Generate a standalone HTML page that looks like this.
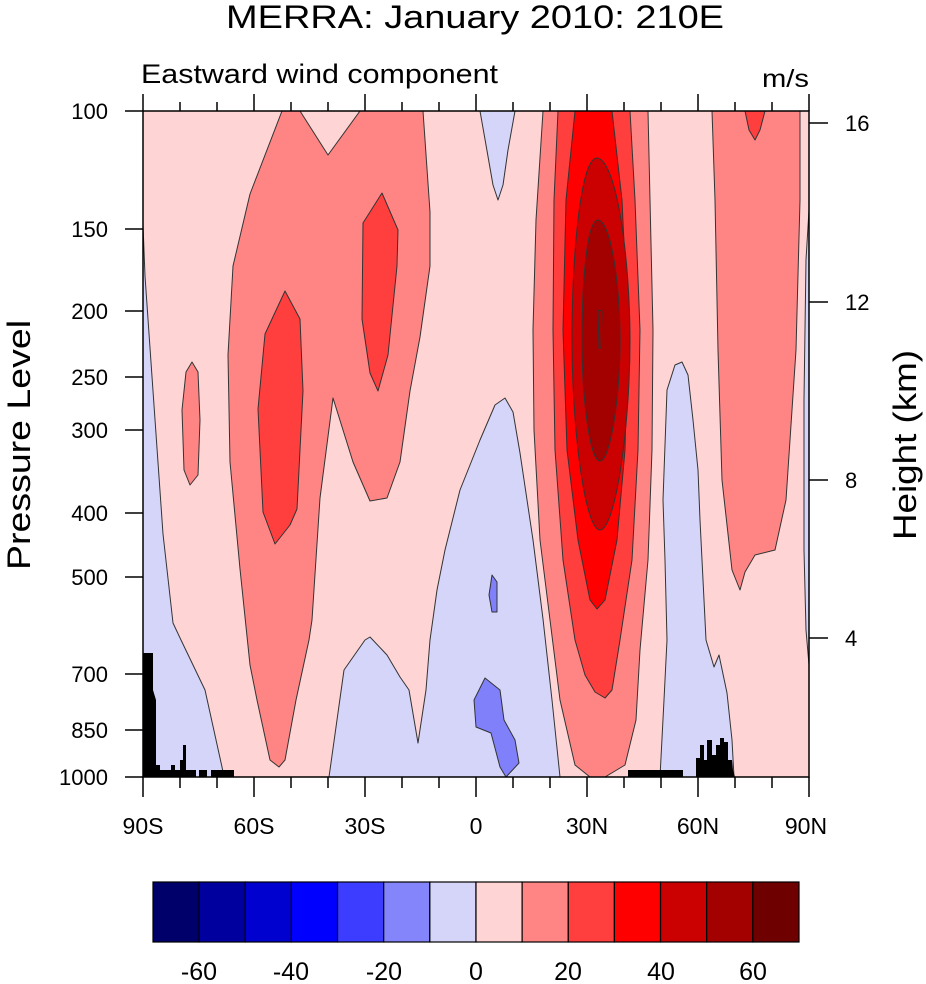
<!DOCTYPE html>
<html><head><meta charset="utf-8"><style>
html,body{margin:0;padding:0;background:#fff;}
svg{display:block;font-family:"Liberation Sans",Arial,sans-serif;}
</style></head><body>
<svg width="926" height="984" viewBox="0 0 926 984" xmlns="http://www.w3.org/2000/svg">
<text x="226" y="28" font-size="32" textLength="498" lengthAdjust="spacingAndGlyphs">MERRA: January 2010: 210E</text>
<text x="141" y="83" font-size="27" textLength="357" lengthAdjust="spacingAndGlyphs">Eastward wind component</text>
<text x="762" y="87" font-size="25" textLength="47" lengthAdjust="spacingAndGlyphs">m/s</text>
<text transform="translate(30,445) rotate(-90)" font-size="32" text-anchor="middle" textLength="250" lengthAdjust="spacingAndGlyphs">Pressure Level</text>
<text transform="translate(916,445) rotate(-90)" font-size="32" text-anchor="middle" textLength="190" lengthAdjust="spacingAndGlyphs">Height (km)</text>

<clipPath id="c"><rect x="143" y="111" width="666" height="666"/></clipPath>
<g clip-path="url(#c)" stroke="#333" stroke-width="1" stroke-linejoin="round">
<rect x="143" y="111" width="666" height="666" fill="#fed4d4" stroke="none"/>
<path fill="#d5d5fa" d="M143,225 L145,276 L153,391 L163,534 L173,623 L181,640 L205,690 L222,767 L224,777 L143,777 Z"/>
<path fill="#d5d5fa" d="M329,777 L344,670 L365,640 L370,637 L387,655 L400,677 L409,690 L418,743 L426,690 L430,640 L437,590 L445,550 L460,490 L480,440 L495,405 L505,398 L513,412 L520,453 L533,540 L543,619 L552,700 L560,777 Z"/>
<path fill="#d5d5fa" d="M480,111 L486,145 L493,185 L498,200 L503,185 L508,150 L515,111 Z"/>
<path fill="#d5d5fa" d="M660,777 L664,700 L667,640 L665,560 L663,500 L667,390 L675,365 L682,362 L688,375 L693,420 L698,470 L700,520 L703,580 L706,640 L714,667 L719,655 L727,693 L732,740 L734,777 Z"/>
<path fill="#d5d5fa" d="M809,210 L806,260 L804,400 L804,550 L806,630 L809,665 Z"/>
<path fill="#8080fb" d="M485,678 L500,690 L504,720 L515,740 L519,763 L506,777 L500,767 L491,733 L476,727 L474,700 Z"/>
<path fill="#8080fb" d="M492,575 L497,582 L497,612 L492,612 L489,595 Z"/>
<path fill="#ff8585" d="M282,111 L300,111 L328,155 L360,111 L423,111 L430,212 L430,266 L420,337 L410,391 L400,462 L387,498 L370,501 L353,462 L333,398 L320,498 L312,620 L309,640 L296,700 L285,760 L279,767 L270,760 L257,700 L250,665 L240,569 L230,462 L228,355 L233,266 L250,194 Z"/>
<path fill="#ff8585" d="M192,362 L198,372 L200,420 L198,475 L190,485 L184,470 L182,410 L186,372 Z"/>
<path fill="#ff8585" d="M712,111 L800,111 L800,200 L796,350 L786,500 L775,550 L755,555 L745,572 L740,590 L732,570 L722,480 L718,350 L715,200 Z"/>
<path fill="#ff8585" d="M543,111 L648,111 L650,200 L653,330 L652,450 L648,560 L640,650 L636,720 L625,765 L605,777 L590,777 L575,765 L560,700 L550,620 L540,540 L534,430 L533,330 L536,220 Z"/>
<path fill="#ff3e3e" d="M285,291 L300,319 L303,391 L297,509 L290,525 L275,544 L263,512 L258,409 L265,334 Z"/>
<path fill="#ff3e3e" d="M382,193 L398,230 L397,266 L388,355 L378,391 L370,373 L362,319 L363,223 Z"/>
<path fill="#ff3e3e" d="M558,111 L630,111 L635,200 L640,330 L638,450 L632,560 L620,640 L612,690 L605,698 L595,692 L585,675 L575,640 L563,560 L555,450 L553,330 L554,200 Z"/>
<path fill="#ff3e3e" d="M745,111 L765,111 L760,130 L755,140 L749,130 Z"/>
<path fill="#fe0000" d="M575,111 L612,111 L622,200 L628,330 L625,450 L617,540 L605,600 L597,609 L590,600 L578,540 L567,450 L563,330 L566,200 Z"/>
<path fill="#cb0000" d="M597,158 C617,160 630,260 630,340 C630,430 615,530 600,530 C585,530 572,430 572,340 C572,260 580,158 597,158 Z"/>
<path fill="#a30000" d="M598,220 C612,222 620,290 620,340 C620,400 610,461 600,461 C590,461 582,400 582,340 C582,290 586,220 598,220 Z"/>
<path fill="#a30000" d="M598,310 L602,311 L601,348 L599,348 Z"/>
</g>
<g fill="#000">
<path d="M143,653 L153,653 L153,690 L156,700 L156,765 L160,765 L160,770 L171,770 L171,765 L175,765 L175,770 L180,770 L180,760 L183,760 L183,745 L186,745 L186,770 L196,770 L196,777 L143,777 Z"/>
<rect x="199" y="770" width="8" height="7"/>
<rect x="211" y="770" width="23" height="7"/>
<path d="M628,770 L683,770 L683,777 L628,777 Z"/>
<path d="M696,777 L696,758 L700,758 L700,745 L704,745 L704,760 L707,760 L707,740 L712,740 L712,755 L716,755 L716,745 L720,745 L720,738 L724,738 L724,742 L728,742 L728,760 L732,760 L733,770 L735,777 Z"/>
</g>
<rect x="143" y="111" width="666" height="666" fill="none" stroke="#000" stroke-width="1.5"/>
<g stroke="#000" stroke-width="1.5">
<line x1="143" y1="777" x2="143" y2="797"/><line x1="254" y1="777" x2="254" y2="797"/><line x1="365" y1="777" x2="365" y2="797"/><line x1="476" y1="777" x2="476" y2="797"/><line x1="587" y1="777" x2="587" y2="797"/><line x1="698" y1="777" x2="698" y2="797"/><line x1="809" y1="777" x2="809" y2="797"/>
<line x1="180" y1="777" x2="180" y2="788"/><line x1="217" y1="777" x2="217" y2="788"/><line x1="291" y1="777" x2="291" y2="788"/><line x1="328" y1="777" x2="328" y2="788"/><line x1="402" y1="777" x2="402" y2="788"/><line x1="439" y1="777" x2="439" y2="788"/><line x1="513" y1="777" x2="513" y2="788"/><line x1="550" y1="777" x2="550" y2="788"/><line x1="624" y1="777" x2="624" y2="788"/><line x1="661" y1="777" x2="661" y2="788"/><line x1="735" y1="777" x2="735" y2="788"/><line x1="772" y1="777" x2="772" y2="788"/>
<line x1="143" y1="111" x2="143" y2="94"/><line x1="254" y1="111" x2="254" y2="94"/><line x1="365" y1="111" x2="365" y2="94"/><line x1="476" y1="111" x2="476" y2="94"/><line x1="587" y1="111" x2="587" y2="94"/><line x1="698" y1="111" x2="698" y2="94"/><line x1="809" y1="111" x2="809" y2="94"/>
<line x1="180" y1="111" x2="180" y2="102"/><line x1="217" y1="111" x2="217" y2="102"/><line x1="291" y1="111" x2="291" y2="102"/><line x1="328" y1="111" x2="328" y2="102"/><line x1="402" y1="111" x2="402" y2="102"/><line x1="439" y1="111" x2="439" y2="102"/><line x1="513" y1="111" x2="513" y2="102"/><line x1="550" y1="111" x2="550" y2="102"/><line x1="624" y1="111" x2="624" y2="102"/><line x1="661" y1="111" x2="661" y2="102"/><line x1="735" y1="111" x2="735" y2="102"/><line x1="772" y1="111" x2="772" y2="102"/>
<line x1="143" y1="111" x2="125" y2="111"/><line x1="143" y1="229" x2="125" y2="229"/><line x1="143" y1="311" x2="125" y2="311"/><line x1="143" y1="377" x2="125" y2="377"/><line x1="143" y1="430" x2="125" y2="430"/><line x1="143" y1="513" x2="125" y2="513"/><line x1="143" y1="577" x2="125" y2="577"/><line x1="143" y1="674" x2="125" y2="674"/><line x1="143" y1="730" x2="125" y2="730"/><line x1="143" y1="777" x2="125" y2="777"/>
<line x1="809" y1="123" x2="828" y2="123"/><line x1="809" y1="302" x2="828" y2="302"/><line x1="809" y1="480" x2="828" y2="480"/><line x1="809" y1="638" x2="828" y2="638"/>
</g>
<g font-size="22" text-anchor="end">
<text x="108" y="119">100</text><text x="108" y="237">150</text><text x="108" y="319">200</text><text x="108" y="385">250</text><text x="108" y="438">300</text><text x="108" y="521">400</text><text x="108" y="585">500</text><text x="108" y="682">700</text><text x="108" y="738">850</text><text x="108" y="785">1000</text>
</g>
<g font-size="22">
<text x="845" y="131">16</text><text x="845" y="310">12</text><text x="845" y="488">8</text><text x="845" y="646">4</text>
</g>
<g font-size="23" text-anchor="middle">
<text x="143" y="834">90S</text><text x="254" y="834">60S</text><text x="365" y="834">30S</text><text x="476" y="834">0</text><text x="587" y="834">30N</text><text x="698" y="834">60N</text><text x="806" y="834">90N</text>
</g>
<g stroke="#000" stroke-width="1.2">
<rect x="153" y="882" width="46.14" height="60" fill="#00006b"/>
<rect x="199.14" y="882" width="46.14" height="60" fill="#00009e"/>
<rect x="245.28" y="882" width="46.14" height="60" fill="#0000cf"/>
<rect x="291.42" y="882" width="46.14" height="60" fill="#0000ff"/>
<rect x="337.56" y="882" width="46.14" height="60" fill="#3d3dff"/>
<rect x="383.7" y="882" width="46.14" height="60" fill="#8585fb"/>
<rect x="429.84" y="882" width="46.14" height="60" fill="#d5d5fa"/>
<rect x="475.98" y="882" width="46.14" height="60" fill="#fed4d4"/>
<rect x="522.12" y="882" width="46.14" height="60" fill="#ff8585"/>
<rect x="568.26" y="882" width="46.14" height="60" fill="#ff3e3e"/>
<rect x="614.4" y="882" width="46.14" height="60" fill="#fe0000"/>
<rect x="660.54" y="882" width="46.14" height="60" fill="#cb0000"/>
<rect x="706.68" y="882" width="46.14" height="60" fill="#a30000"/>
<rect x="752.82" y="882" width="46.18" height="60" fill="#6e0000"/>
</g>
<g font-size="25" text-anchor="middle">
<text x="199" y="980">-60</text><text x="291" y="980">-40</text><text x="384" y="980">-20</text><text x="476" y="980">0</text><text x="568" y="980">20</text><text x="661" y="980">40</text><text x="753" y="980">60</text>
</g>
</svg>
</body></html>
